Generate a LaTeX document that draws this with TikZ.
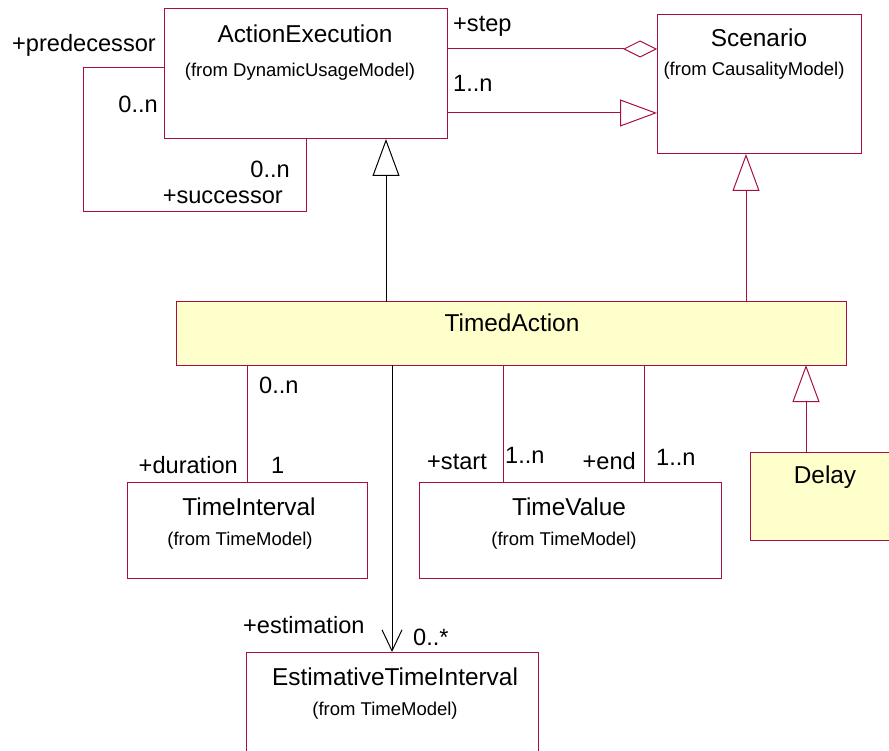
\documentclass[tikz,border=0pt]{standalone}
\usepackage{fontspec}
\setmainfont{Liberation Sans}
\usetikzlibrary{arrows.meta}
\definecolor{umlline}{RGB}{165,15,70}
\definecolor{umlfill}{RGB}{255,255,204}
\tikzset{
  classbox/.style={draw=umlline, line width=1pt, rectangle, inner sep=0pt, outer sep=0pt},
  activebox/.style={classbox, fill=umlfill},
  cname/.style={anchor=base, inner sep=0pt, font=\fontsize{24.4}{28}\selectfont},
  cfrom/.style={anchor=base, inner sep=0pt, font=\fontsize{18.5}{22}\selectfont},
  rolelbl/.style={inner sep=0pt, font=\fontsize{23.6}{27}\selectfont},
  assoc/.style={draw=umlline, line width=1pt},
  gen/.style={draw=umlline, line width=1pt, -{Triangle[open, length=37pt, width=27pt]}},
  agg/.style={draw=umlline, line width=1pt, -{Diamond[open, length=34pt, width=17pt]}},
  nav/.style={draw=black, line width=1pt, -{Straight Barb[length=21pt, width=20pt, line width=1pt]}}
}
\begin{document}
\begin{tikzpicture}[x=1pt, y=-1pt]
\useasboundingbox (0,0) rectangle (889,751);

% class boxes
\node[classbox, minimum width=283pt, minimum height=130pt] (ae) at (305.5,74) {};
\node[classbox, minimum width=204pt, minimum height=139pt] (sc) at (759,84.5) {};
\node[activebox, minimum width=670pt, minimum height=63pt] (ta) at (511,333.5) {};
\node[classbox, minimum width=240pt, minimum height=96pt] (ti) at (247,530) {};
\node[classbox, minimum width=302pt, minimum height=96pt] (tv) at (570,530) {};
\node[activebox, minimum width=150pt, minimum height=88pt] (dl) at (825,496) {};
\node[classbox, minimum width=292pt, minimum height=108pt] (eti) at (392,706) {};

% class names
\node[cname] (aen) at (305,43) {ActionExecution};
\node[cfrom] (aef) at (300,77) {(from DynamicUsageModel)};
\node[cname] (scn) at (759,47) {Scenario};
\node[cfrom] (scf) at (754,76) {(from CausalityModel)};
\node[cname] (tan) at (512,332) {TimedAction};
\node[cname] (tin) at (249,515) {TimeInterval};
\node[cfrom] (tif) at (240,545) {(from TimeModel)};
\node[cname] (tvn) at (569,515) {TimeValue};
\node[cfrom] (tvf) at (564,545) {(from TimeModel)};
\node[cname] (dln) at (825,483) {Delay};
\node[cname] (etin) at (395,685) {EstimativeTimeInterval};
\node[cfrom] (etif) at (385,715) {(from TimeModel)};

% ActionExecution self association
\coordinate (loopa) at (83,68);
\coordinate (loopb) at (83,212);
\coordinate (loopc) at (306,212);
\draw[assoc] ([yshift=6pt]ae.west) -- (loopa) -- (loopb) -- (loopc) -- (loopc |- ae.south);

% ActionExecution to Scenario
\draw[agg] ([yshift=25pt]ae.east) -- ([yshift=25pt]ae.east -| sc.west);
\draw[gen] ([yshift=-39pt]ae.east) -- ([yshift=-39pt]ae.east -| sc.west);

% generalizations of TimedAction and Delay
\draw[gen, draw=black] ([xshift=-125pt]ta.north) -- ([xshift=-125pt]ta.north |- ae.south);
\draw[gen] ([xshift=235pt]ta.north) -- ([xshift=235pt]ta.north |- sc.south);
\draw[gen] ([xshift=-19pt]dl.north) -- ([xshift=-19pt]dl.north |- ta.south);

% associations of TimedAction
\draw[assoc] (ti.north |- ta.south) -- (ti.north);
\draw[assoc] ([xshift=-67pt]tv.north |- ta.south) -- ([xshift=-67pt]tv.north);
\draw[assoc] ([xshift=74pt]tv.north |- ta.south) -- ([xshift=74pt]tv.north);
\draw[nav] (eti.north |- ta.south) -- (eti.north);

% role names and multiplicities
\node[rolelbl, anchor=base west] (lstep) at (453,32) {+step};
\node[rolelbl, anchor=base west] (lscm) at (453,92) {1..n};
\node[rolelbl, anchor=base west] (lpred) at (12,52) {+predecessor};
\node[rolelbl, anchor=base east] (lpredm) at (158,113) {0..n};
\node[rolelbl, anchor=base east] (lsuccm) at (290,178) {0..n};
\node[rolelbl, anchor=base east] (lsucc) at (283,204) {+successor};
\node[rolelbl, anchor=base west] (ldurm) at (259,393) {0..n};
\node[rolelbl, anchor=base east] (ldur) at (238,473) {+duration};
\node[rolelbl, anchor=base west] (ldur1) at (271,473) {1};
\node[rolelbl, anchor=base west] (lstart) at (427,469) {+start};
\node[rolelbl, anchor=base west] (lstartm) at (505,463) {1..n};
\node[rolelbl, anchor=base east] (lend) at (636,469) {+end};
\node[rolelbl, anchor=base west] (lendm) at (656,465) {1..n};
\node[rolelbl, anchor=base west] (lest) at (243,633) {+estimation};
\node[rolelbl, anchor=base west] (lestm) at (413,645) {0..*};
\end{tikzpicture}
\end{document}
